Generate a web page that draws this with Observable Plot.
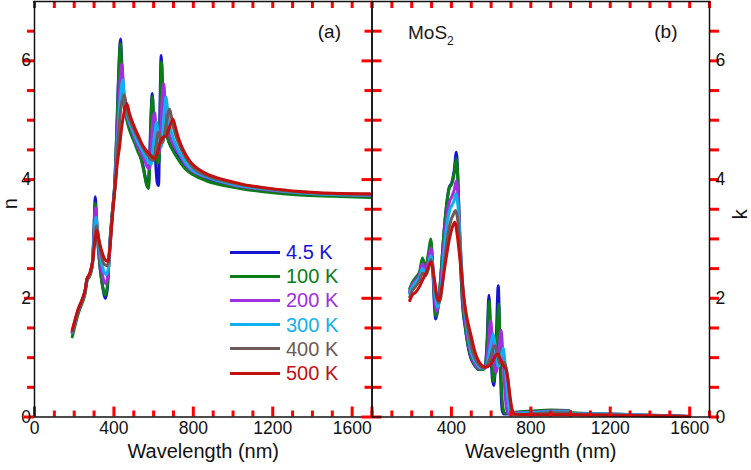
<!DOCTYPE html>
<html><head><meta charset="utf-8">
<script src="https://cdn.jsdelivr.net/npm/d3@7"></script>
<script src="https://cdn.jsdelivr.net/npm/@observablehq/plot@0.6"></script>
<style>
body{margin:0;background:#fff;}
#wrap{position:relative;width:751px;height:470px;font-family:"Liberation Sans",Arial,sans-serif;overflow:hidden;background:#fff}
#wrap > svg{position:absolute;top:0;overflow:visible}
#legend{position:absolute;left:230px;top:240px;font-size:20px;line-height:24.2px}
#legend .row{display:flex;align-items:center;height:24.2px}
#legend .sw{width:50px;height:3px;margin-right:6px}
#mos{position:absolute;left:408px;top:22px;font-size:19px;color:#1a1a1a}
#mos sub{font-size:12px;vertical-align:-6px}
</style></head><body><div id="wrap"><div id="legend"></div><div id="mos">MoS<sub>2</sub></div></div>
<script>
const temps = ["4.5 K", "100 K", "200 K", "300 K", "400 K", "500 K"];
const colors = ["#1414d2", "#0b7d16", "#a12ee0", "#10b0ee", "#6e5a56", "#c40f0f"];

const xMajor = [0, 400, 800, 1200, 1600];
const xMinor = [100, 200, 300, 500, 600, 700, 900, 1000, 1100, 1300, 1400, 1500, 1700];
const yMajor = [0, 2, 4, 6];
const yMinor = [0.5, 1, 1.5, 2.5, 3, 3.5, 4.5, 5, 5.5, 6.5];

// refractive index n : [wavelength nm, n]
const n_4_5 = [[190,1.42],[205,1.6],[220,1.78],[240,1.96],[255,2.12],[265,2.33],[278,2.4],[292,2.6],[300,3.2],[306,3.71],[314,3.2],[328,2.6],[343,2.2],[358,2.0],[368,2.2],[380,2.95],[392,3.45],[403,3.87],[413,4.7],[423,5.7],[433,6.37],[440,5.95],[450,5.4],[465,5.05],[480,4.88],[504,4.66],[520,4.52],[537,4.38],[552,4.15],[563,3.95],[571,3.87],[580,4.4],[587,5.1],[593,5.45],[600,4.95],[610,4.3],[618,3.95],[625,3.9],[631,5.0],[638,6.09],[645,5.5],[655,5.0],[670,4.72],[690,4.55],[720,4.4],[760,4.22],[800,4.12],[865,4.02],[1000,3.9],[1167,3.82],[1335,3.77],[1503,3.74],[1690,3.72]];
const n_100 = [[190,1.35],[205,1.55],[220,1.74],[240,1.92],[255,2.08],[265,2.3],[278,2.37],[292,2.55],[300,3.15],[306,3.6],[314,3.2],[328,2.6],[343,2.2],[358,2.05],[368,2.25],[380,2.95],[392,3.45],[403,3.87],[413,4.65],[423,5.65],[433,6.29],[440,5.85],[450,5.3],[465,5.0],[480,4.82],[504,4.62],[520,4.48],[537,4.34],[552,4.12],[563,3.93],[575,3.85],[582,4.4],[588,5.1],[594,5.4],[601,4.95],[611,4.45],[620,4.28],[628,4.3],[633,5.1],[640,5.98],[647,5.45],[657,4.95],[672,4.68],[692,4.52],[720,4.36],[760,4.18],[800,4.08],[865,3.98],[1000,3.87],[1167,3.79],[1335,3.74],[1503,3.72],[1690,3.7]];
const n_200 = [[190,1.42],[205,1.6],[220,1.78],[240,1.96],[255,2.12],[265,2.33],[278,2.4],[292,2.6],[301,3.15],[308,3.53],[316,3.2],[330,2.65],[345,2.35],[360,2.25],[370,2.4],[382,3.0],[394,3.5],[405,3.9],[416,4.7],[428,5.5],[440,5.95],[448,5.55],[458,5.2],[472,5.0],[488,4.85],[506,4.68],[522,4.55],[540,4.42],[558,4.3],[570,4.2],[579,4.18],[587,4.5],[595,4.95],[605,5.13],[613,4.8],[621,4.5],[628,4.45],[637,4.9],[644,5.4],[651,5.61],[658,5.3],[668,4.95],[683,4.72],[700,4.58],[730,4.42],[760,4.25],[800,4.13],[865,4.04],[1000,3.91],[1167,3.83],[1335,3.78],[1503,3.75],[1690,3.73]];
const n_300 = [[190,1.43],[205,1.62],[220,1.8],[240,1.97],[255,2.13],[265,2.33],[278,2.4],[292,2.6],[302,3.1],[310,3.36],[318,3.15],[332,2.7],[347,2.48],[362,2.4],[372,2.5],[384,3.05],[396,3.55],[407,3.95],[420,4.75],[432,5.35],[445,5.68],[453,5.4],[463,5.15],[476,4.98],[492,4.85],[508,4.72],[525,4.6],[545,4.48],[565,4.35],[578,4.28],[588,4.26],[597,4.5],[606,4.8],[615,4.97],[623,4.8],[631,4.6],[638,4.55],[647,4.85],[655,5.2],[663,5.39],[671,5.15],[682,4.9],[697,4.72],[715,4.56],[740,4.4],[770,4.25],[800,4.15],[865,4.05],[1000,3.92],[1167,3.84],[1335,3.78],[1503,3.75],[1690,3.74]];
const n_400 = [[190,1.44],[205,1.63],[220,1.8],[240,1.97],[255,2.13],[265,2.33],[278,2.4],[293,2.62],[304,3.05],[312,3.22],[320,3.08],[335,2.75],[350,2.58],[365,2.55],[375,2.65],[386,3.15],[398,3.65],[409,4.0],[422,4.7],[436,5.22],[453,5.42],[462,5.25],[472,5.08],[486,4.95],[504,4.82],[522,4.7],[545,4.55],[568,4.42],[585,4.35],[600,4.32],[610,4.5],[618,4.7],[626,4.8],[634,4.7],[645,4.62],[655,4.75],[667,5.0],[680,5.19],[690,5.05],[702,4.85],[720,4.66],[745,4.47],[775,4.3],[805,4.18],[865,4.07],[1000,3.94],[1167,3.85],[1335,3.79],[1503,3.76],[1690,3.75]];
const n_500 = [[190,1.46],[205,1.65],[220,1.82],[240,1.98],[255,2.14],[265,2.33],[278,2.42],[294,2.65],[306,3.0],[314,3.14],[322,3.02],[338,2.8],[354,2.66],[369,2.62],[380,2.85],[393,3.4],[406,3.87],[418,4.3],[428,4.54],[440,4.9],[453,5.16],[465,5.28],[478,5.12],[490,5.0],[504,4.88],[525,4.72],[546,4.57],[568,4.47],[588,4.4],[605,4.35],[620,4.45],[635,4.65],[651,4.72],[663,4.73],[680,4.88],[697,5.02],[710,4.88],[725,4.7],[742,4.55],[765,4.4],[790,4.28],[825,4.18],[865,4.1],[930,4.02],[1000,3.96],[1080,3.9],[1167,3.86],[1335,3.8],[1503,3.77],[1690,3.76]];

// extinction coefficient k : [wavelength nm, k]
const k_4_5 = [[190,2.1],[202,2.22],[220,2.3],[240,2.42],[254,2.62],[270,2.5],[285,2.72],[296,2.92],[306,2.5],[315,1.85],[321,1.65],[330,1.78],[345,2.3],[360,3.0],[375,3.55],[388,3.86],[402,3.95],[414,4.15],[425,4.46],[433,4.0],[442,3.0],[455,1.95],[470,1.5],[492,1.06],[515,0.88],[539,0.8],[556,0.8],[570,0.85],[580,1.3],[589,2.05],[597,1.35],[606,0.65],[614,0.53],[624,1.1],[636,2.21],[644,1.2],[650,0.45],[656,0.11],[665,0.05],[720,0.06],[800,0.07],[900,0.08],[990,0.07],[1010,0.05],[1200,0.04],[1400,0.02],[1600,0.01]];
const k_100 = [[190,2.16],[202,2.26],[220,2.35],[240,2.45],[254,2.68],[270,2.52],[285,2.78],[296,3.0],[306,2.55],[316,1.9],[322,1.7],[331,1.82],[345,2.3],[360,3.0],[375,3.55],[388,3.84],[402,3.93],[414,4.1],[425,4.35],[433,3.95],[442,3.0],[455,2.0],[470,1.52],[492,1.08],[515,0.89],[540,0.8],[557,0.8],[571,0.86],[581,1.3],[590,1.95],[598,1.4],[606,0.75],[612,0.6],[626,1.05],[638,1.9],[646,1.15],[653,0.45],[662,0.11],[670,0.06],[720,0.08],[800,0.1],[900,0.12],[990,0.11],[1010,0.07],[1200,0.05],[1400,0.03],[1600,0.01]];
const k_200 = [[190,2.12],[202,2.22],[220,2.3],[240,2.4],[254,2.58],[270,2.47],[285,2.67],[296,2.85],[307,2.5],[318,1.95],[325,1.78],[335,1.9],[348,2.3],[362,2.9],[377,3.4],[390,3.62],[403,3.72],[414,3.82],[425,3.98],[434,3.7],[444,2.95],[458,2.02],[473,1.55],[495,1.1],[518,0.9],[542,0.82],[560,0.82],[575,0.9],[587,1.25],[598,1.62],[606,1.3],[616,0.85],[625,0.75],[638,1.05],[650,1.46],[660,1.0],[670,0.4],[680,0.1],[690,0.05],[720,0.07],[800,0.08],[900,0.1],[990,0.1],[1010,0.06],[1200,0.05],[1400,0.03],[1600,0.01]];
const k_300 = [[190,2.08],[202,2.18],[220,2.27],[240,2.36],[254,2.5],[270,2.42],[285,2.57],[296,2.72],[308,2.45],[320,2.02],[330,1.85],[340,1.95],[352,2.3],[365,2.85],[380,3.3],[393,3.5],[405,3.58],[415,3.66],[423,3.76],[433,3.55],[445,2.92],[460,2.05],[476,1.57],[498,1.12],[522,0.92],[546,0.83],[564,0.82],[580,0.9],[594,1.15],[604,1.32],[611,1.4],[620,1.2],[630,0.92],[638,0.85],[650,1.0],[661,1.16],[670,0.9],[682,0.4],[693,0.1],[702,0.05],[720,0.06],[800,0.07],[900,0.09],[990,0.09],[1010,0.06],[1200,0.05],[1400,0.03],[1600,0.01]];
const k_400 = [[190,2.02],[202,2.12],[220,2.2],[240,2.3],[254,2.42],[270,2.38],[285,2.5],[296,2.65],[310,2.4],[324,2.05],[335,1.92],[346,2.0],[358,2.35],[372,2.8],[386,3.15],[399,3.33],[411,3.42],[421,3.48],[432,3.32],[446,2.75],[462,2.0],[479,1.58],[500,1.18],[525,0.95],[548,0.85],[565,0.82],[582,0.88],[598,1.02],[610,1.15],[620,1.2],[632,1.05],[645,0.9],[656,0.92],[668,0.92],[680,0.75],[692,0.4],[702,0.1],[712,0.04],[800,0.05],[900,0.07],[990,0.07],[1010,0.05],[1200,0.04],[1400,0.02],[1600,0.01]];
const k_500 = [[190,1.96],[202,2.05],[220,2.1],[240,2.2],[254,2.3],[275,2.45],[296,2.61],[315,2.3],[328,2.02],[338,1.96],[350,2.15],[370,2.6],[390,3.0],[405,3.2],[417,3.28],[430,3.05],[447,2.52],[460,2.1],[472,1.79],[497,1.4],[522,1.06],[545,0.9],[572,0.84],[590,0.86],[610,0.95],[622,1.03],[634,1.06],[646,0.98],[660,0.87],[673,0.82],[684,0.65],[695,0.35],[705,0.14],[716,0.05],[800,0.04],[900,0.04],[1000,0.04],[1200,0.03],[1400,0.02],[1600,0.01]];

const nSeries = [n_4_5, n_100, n_200, n_300, n_400, n_500];
const kSeries = [k_4_5, k_100, k_200, k_300, k_400, k_500];

const rows = (series) => series.flatMap((s, i) => s.map(([wl, v]) => ({wl, v, T: temps[i]})));
const nRows = rows(nSeries);
const kRows = rows(kSeries);

const H = 470, MT = 1, MB = 53.5;
const FH = H - MT - MB;
const ink = "#111";
const fmt = d => String(d);
const common = {
  height: H, marginTop: MT, marginBottom: MB,
  x: {domain: [0, 1700]},
  y: {domain: [0, 7]},
  color: {domain: temps, range: colors},
  style: {fontFamily: '"Liberation Sans", Arial, sans-serif', color: ink, background: "transparent", overflow: "visible"}
};

// inward tick marks on all four sides, as rules between the domain edge and a pixel offset
function tickMarks() {
  const st = {stroke: "red", strokeWidth: 3};
  return [
    Plot.ruleX(xMajor, {x: d => d, y1: 0, y2: 0, insetBottom: 10, ...st}),
    Plot.ruleX(xMinor, {x: d => d, y1: 0, y2: 0, insetBottom: 6, ...st}),
    Plot.ruleX([...xMajor, ...xMinor], {x: d => d, y1: 7, y2: 7, insetTop: 7, ...st}),
    Plot.ruleY(yMajor, {y: d => d, x1: 0, x2: 0, insetRight: 10, ...st}),
    Plot.ruleY(yMinor, {y: d => d, x1: 0, x2: 0, insetRight: 7, ...st}),
    Plot.ruleY([...yMajor, ...yMinor], {y: d => d, x1: 1700, x2: 1700, insetLeft: 10, ...st})
  ];
}

const LW = 372, LML = 34, LMR = 0.5;
const left = Plot.plot({
  ...common,
  width: LW, marginLeft: LML, marginRight: LMR,
  marks: [
    Plot.line(nRows, {x: "wl", y: "v", z: "T", stroke: "T", strokeWidth: 3, curve: "monotone-x"}),
    ...tickMarks(),
    Plot.axisX({anchor: "bottom", ticks: xMajor, tickFormat: fmt, tickSize: 0, tickPadding: 5, fontSize: 17.5, label: null}),
    Plot.axisY({anchor: "left", ticks: yMajor, tickFormat: fmt, tickSize: 0, tickPadding: 3.5, fontSize: 17.5, label: null}),
    Plot.frame({stroke: ink, strokeWidth: 1.5}),
    Plot.text(["Wavelength (nm)"], {frameAnchor: "bottom", dy: 41, fontSize: 20, fill: ink}),
    Plot.text(["n"], {frameAnchor: "left", dx: -18, rotate: -90, fontSize: 20, fill: ink, lineAnchor: "bottom"}),
    Plot.text(["(a)"], {frameAnchor: "top-right", dx: -31, dy: 30, fontSize: 19, fill: ink, textAnchor: "end", lineAnchor: "middle"})
  ]
});
left.style.left = "0px";

const RW = 380, RML = 0.5, RMR = 42;
const right = Plot.plot({
  ...common,
  width: RW, marginLeft: RML, marginRight: RMR,
  marks: [
    Plot.line(kRows, {x: "wl", y: "v", z: "T", stroke: "T", strokeWidth: 3, curve: "monotone-x"}),
    ...tickMarks(),
    Plot.axisX({anchor: "bottom", ticks: xMajor.filter(d => d > 0), tickFormat: fmt, tickSize: 0, tickPadding: 5, fontSize: 17.5, label: null}),
    Plot.axisY({anchor: "right", ticks: yMajor, tickFormat: fmt, tickSize: 0, tickPadding: 6, fontSize: 17.5, label: null}),
    Plot.frame({stroke: ink, strokeWidth: 1.5}),
    Plot.text(["Wavelegnth (nm)"], {frameAnchor: "bottom", dy: 41, fontSize: 20, fill: ink}),
    Plot.text(["k"], {frameAnchor: "right", dx: 37, rotate: -90, fontSize: 20, fill: ink, lineAnchor: "bottom"}),
    Plot.text(["(b)"], {frameAnchor: "top-right", dx: -32, dy: 30, fontSize: 19, fill: ink, textAnchor: "end", lineAnchor: "middle"})
  ]
});
right.style.left = "371px";

const wrap = document.getElementById("wrap");
wrap.prepend(right);
wrap.prepend(left);

const legend = document.getElementById("legend");
temps.forEach((t, i) => {
  const row = document.createElement("div");
  row.className = "row";
  row.innerHTML = `<span class="sw" style="background:${colors[i]}"></span><span style="color:${colors[i]}">${t}</span>`;
  legend.appendChild(row);
});
</script>
</body></html>
